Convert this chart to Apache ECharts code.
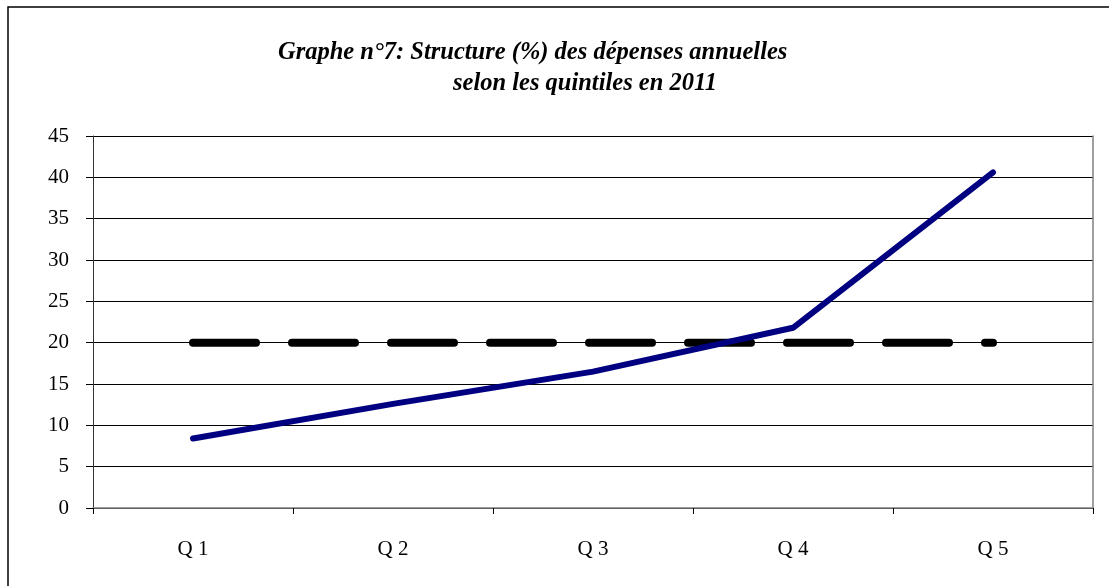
<!DOCTYPE html>
<html>
<head>
<meta charset="utf-8">
<script src="https://cdn.jsdelivr.net/npm/echarts@6/dist/echarts.min.js"></script>
<style>
  html, body { margin: 0; padding: 0; background: #fff; }
  #chart { width: 1109px; height: 586px; }
</style>
</head>
<body>
<div id="chart"></div>
<script>
// données
const quintiles = ['Q 1', 'Q 2', 'Q 3', 'Q 4', 'Q 5'];
const structure = [8.4, 12.6, 16.5, 21.8, 40.6];
const reference = [20, 20, 20, 20, 20];
const titleLine1 = 'Graphe n°7: Structure (%) des dépenses annuelles';
const titleLine2 = 'selon les quintiles en 2011';

const font = '"Liberation Serif", "Times New Roman", serif';

const myChart = echarts.init(document.getElementById('chart'));
const option = {
    backgroundColor: '#fff',
    animation: false,
    title: [
        {
            text: titleLine1,
            left: 278,
            top: 40,
            padding: 0,
            textStyle: { fontFamily: font, fontSize: 24.5, fontStyle: 'italic', fontWeight: 'bold', color: '#000' }
        },
        {
            text: titleLine2,
            left: 453,
            top: 71,
            padding: 0,
            textStyle: { fontFamily: font, fontSize: 24.5, fontStyle: 'italic', fontWeight: 'bold', color: '#000' }
        }
    ],
    // cadre autour du graphe
    graphic: [
        {
            type: 'rect',
            shape: { x: 8, y: 7, width: 1200, height: 700 },
            style: { fill: 'none', stroke: '#000', lineWidth: 1.5 },
            silent: true
        }
    ],
    grid: {
        left: 93,
        right: 16,
        top: 136,
        bottom: 78
    },
    xAxis: [
        {
            type: 'category',
            data: quintiles,
            boundaryGap: true,
            axisLine: { lineStyle: { color: '#000', width: 1 } },
            axisTick: { show: true, length: 6, lineStyle: { color: '#000' } },
            axisLabel: { color: '#000', fontFamily: font, fontSize: 21, margin: 31 },
            splitLine: { show: false }
        },
        {
            // bord haut gris
            type: 'category',
            data: quintiles,
            position: 'top',
            axisLine: { lineStyle: { color: '#808080', width: 1.5 } },
            axisTick: { show: false },
            axisLabel: { show: false }
        }
    ],
    yAxis: [
        {
            type: 'value',
            min: 0,
            max: 45,
            interval: 5,
            axisLine: { show: true, lineStyle: { color: '#333', width: 1 } },
            axisTick: { show: true, length: 7, lineStyle: { color: '#000' } },
            axisLabel: { color: '#000', fontFamily: font, fontSize: 21, margin: 24 },
            splitLine: { show: true, lineStyle: { color: '#000', width: 1 } }
        },
        {
            // bord droit gris
            type: 'value',
            min: 0,
            max: 45,
            interval: 5,
            position: 'right',
            axisLine: { show: true, lineStyle: { color: '#808080', width: 1.5 } },
            axisTick: { show: false },
            axisLabel: { show: false },
            splitLine: { show: false }
        }
    ],
    series: [
        {
            name: 'Référence 20 %',
            type: 'line',
            data: reference,
            showSymbol: false,
            lineStyle: {
                color: '#000',
                width: 8,
                type: [63, 36],
                cap: 'round'
            },
            z: 2
        },
        {
            name: 'Structure',
            type: 'line',
            data: structure,
            showSymbol: false,
            lineStyle: {
                color: '#000080',
                width: 6,
                cap: 'round',
                join: 'round'
            },
            z: 3
        }
    ]
};
myChart.setOption(option);
window.addEventListener('resize', () => {
    myChart.resize();
});
</script>
</body>
</html>
